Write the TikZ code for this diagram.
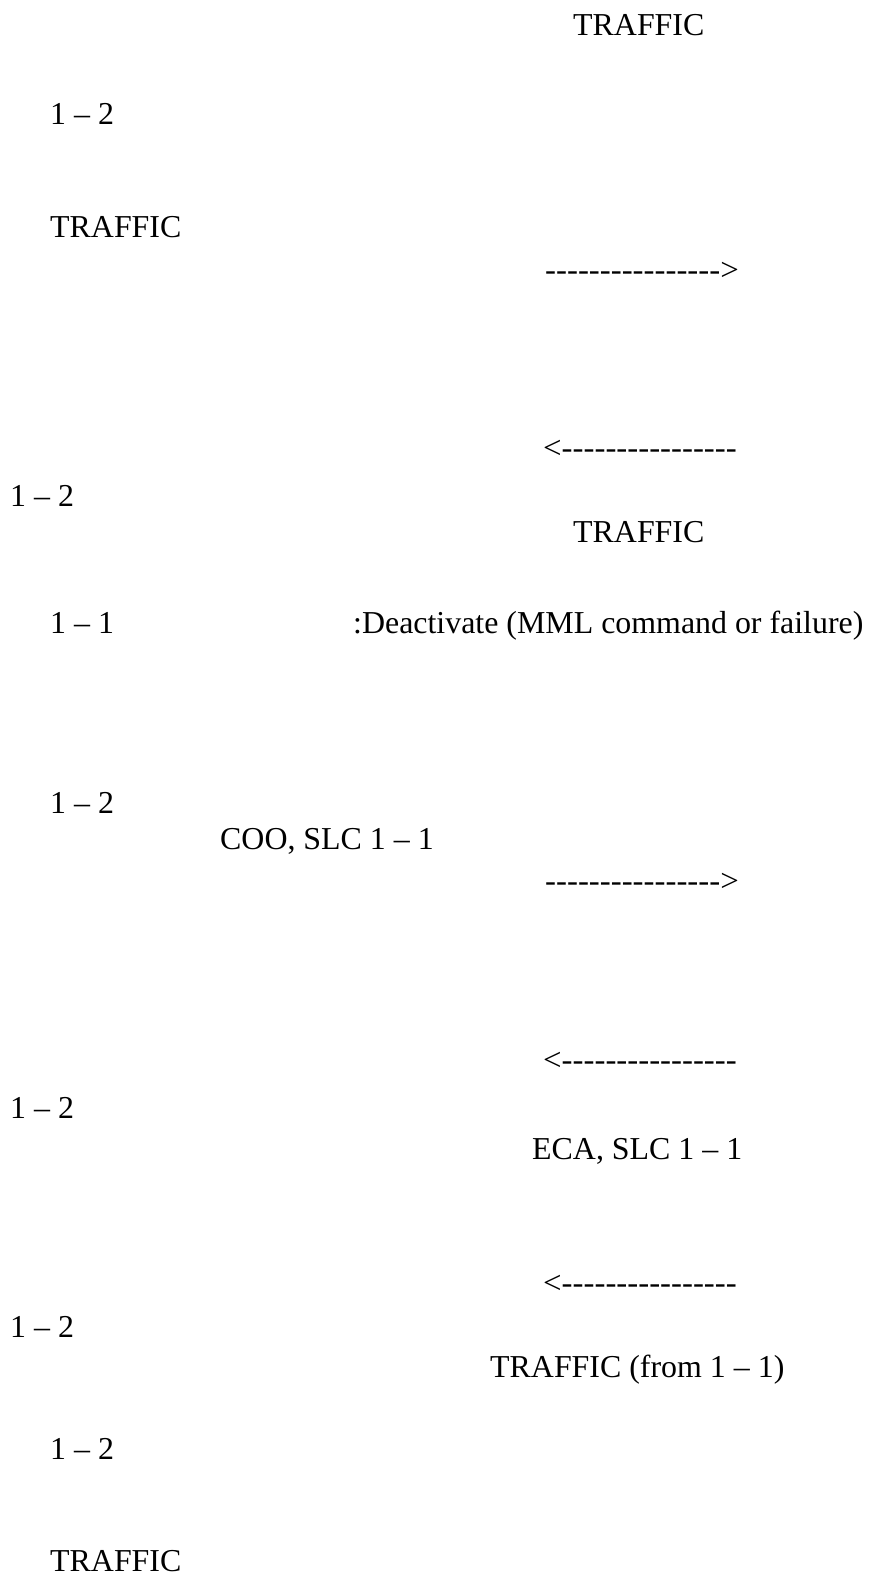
\documentclass[tikz,border=0pt]{standalone}
\usepackage{fontspec}
\setmainfont{Liberation Serif}[Ligatures=TeXOff]
\newcommand{\wide}[1]{\scalebox{1.03}[1]{#1}}
\begin{document}
\begin{tikzpicture}[x=1pt,y=-1pt,
    lbl/.style={anchor=base west,inner sep=0pt,font=\fontsize{31.9}{38}\selectfont}]
    \useasboundingbox (0,0) rectangle (868,1579);
    % traffic on 1 - 2
    \node[lbl] (trafA) at (573,36) {TRAFFIC};
    \node[lbl] (linkA) at (50,124) {1 – 2};
    \node[lbl] (trafB) at (50,237) {TRAFFIC};
    \node[lbl] (outA) at (545,280) {\wide{---------------->}};
    \node[lbl] (inA) at (543,458) {\wide{<----------------}};
    \node[lbl] (linkB) at (10,506) {1 – 2};
    \node[lbl] (trafC) at (573,542) {TRAFFIC};
    % 1 - 1 goes down
    \node[lbl] (linkC) at (50,633) {1 – 1};
    \node[lbl] (deact) at (353,633) {:Deactivate (MML command or failure)};
    % changeover
    \node[lbl] (linkD) at (50,813) {1 – 2};
    \node[lbl] (coo) at (220,849) {COO, SLC 1 – 1};
    \node[lbl] (outB) at (545,891) {\wide{---------------->}};
    \node[lbl] (inB) at (543,1070) {\wide{<----------------}};
    \node[lbl] (linkE) at (10,1118) {1 – 2};
    \node[lbl] (eca) at (532,1159) {ECA, SLC 1 – 1};
    \node[lbl] (inC) at (543,1293) {\wide{<----------------}};
    \node[lbl] (linkF) at (10,1337) {1 – 2};
    \node[lbl] (trafD) at (490,1377) {TRAFFIC (from 1 – 1)};
    \node[lbl] (linkG) at (50,1459) {1 – 2};
    \node[lbl] (trafE) at (50,1571) {TRAFFIC};
\end{tikzpicture}
\end{document}
